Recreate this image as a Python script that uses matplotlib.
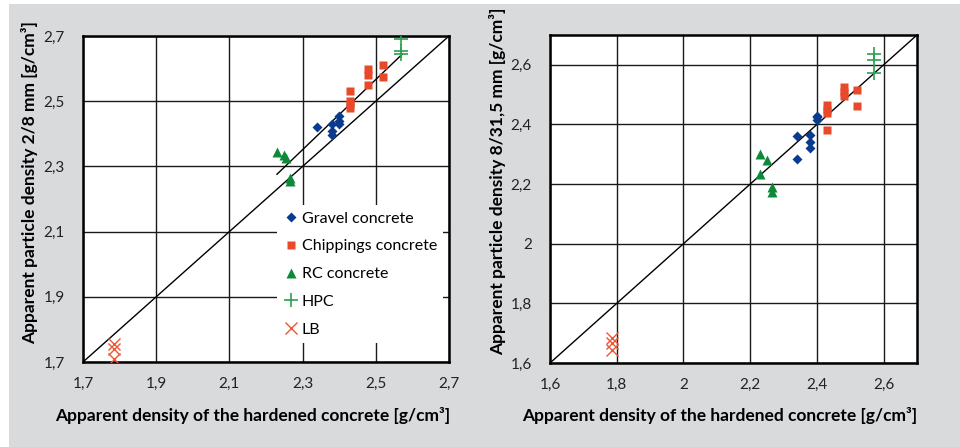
import matplotlib.pyplot as plt
from matplotlib.patches import Rectangle

plt.rcParams['font.family'] = ['Lato', 'DejaVu Sans']

# left chart: particle density 2/8 mm
gravel_x1 = [2.34, 2.38, 2.38, 2.38, 2.40, 2.40, 2.40]
gravel_y1 = [2.42, 2.43, 2.41, 2.395, 2.455, 2.44, 2.43]
chip_x1 = [2.43, 2.43, 2.43, 2.43, 2.48, 2.48, 2.48, 2.52, 2.52]
chip_y1 = [2.53, 2.50, 2.49, 2.48, 2.60, 2.58, 2.55, 2.61, 2.575]
rc_x1 = [2.23, 2.25, 2.255, 2.265, 2.265]
rc_y1 = [2.345, 2.335, 2.325, 2.265, 2.255]
hpc_x1 = [2.57, 2.57, 2.57]
hpc_y1 = [2.69, 2.655, 2.645]
lb_x1 = [1.785, 1.785, 1.785]
lb_y1 = [1.755, 1.74, 1.71]
trend_x1 = [2.23, 2.572]
trend_y1 = [2.276, 2.644]

# right chart: particle density 8/31,5 mm
gravel_x2 = [2.34, 2.34, 2.38, 2.38, 2.38, 2.40, 2.40, 2.40]
gravel_y2 = [2.36, 2.285, 2.365, 2.34, 2.32, 2.43, 2.425, 2.415]
chip_x2 = [2.43, 2.43, 2.43, 2.43, 2.48, 2.48, 2.48, 2.52, 2.52]
chip_y2 = [2.465, 2.45, 2.44, 2.38, 2.525, 2.51, 2.495, 2.517, 2.463]
rc_x2 = [2.23, 2.25, 2.23, 2.265, 2.265]
rc_y2 = [2.30, 2.28, 2.235, 2.19, 2.175]
hpc_x2 = [2.57, 2.57, 2.57]
hpc_y2 = [2.635, 2.617, 2.572]
lb_x2 = [1.785, 1.785, 1.785]
lb_y2 = [1.683, 1.667, 1.643]

ticks1 = [1.7, 1.9, 2.1, 2.3, 2.5, 2.7]
ticklabels1 = ['1,7', '1,9', '2,1', '2,3', '2,5', '2,7']
ticks2 = [1.6, 1.8, 2.0, 2.2, 2.4, 2.6]
ticklabels2 = ['1,6', '1,8', '2', '2,2', '2,4', '2,6']

c_gravel = '#0a3b8f'
c_chip = '#e8492a'
c_rc = '#0c8a3a'
c_hpc = '#2f9f52'
c_lb = '#ee5634'

fig = plt.figure(figsize=(9.6, 4.47), dpi=100, facecolor='white')
fig.patches.append(Rectangle((9 / 960, 0), 1, (447 - 4) / 447, transform=fig.transFigure,
                             facecolor='#d9dadc', edgecolor='none', zorder=-10))

ax1 = fig.add_axes([83 / 960, 85 / 447, 366 / 960, 326 / 447])
ax2 = fig.add_axes([550 / 960, 84 / 447, 367 / 960, 328 / 447])


def draw(ax, gx, gy, cx, cy, rx, ry, hx, hy, lx, ly):
    ax.plot(gx, gy, 'D', color=c_gravel, ms=5.5, mec='none', label='Gravel concrete', zorder=3)
    ax.plot(cx, cy, 's', color=c_chip, ms=5.5, mec='none', label='Chippings concrete', zorder=3)
    ax.plot(rx, ry, '^', color=c_rc, ms=7, mec='none', label='RC concrete', zorder=3)
    ax.plot(hx, hy, '+', color=c_hpc, ms=10, mew=1.2, label='HPC', zorder=3)
    ax.plot(lx, ly, 'x', color=c_lb, ms=8, mew=1.0, label='LB', zorder=3)


draw(ax1, gravel_x1, gravel_y1, chip_x1, chip_y1, rc_x1, rc_y1, hpc_x1, hpc_y1, lb_x1, lb_y1)
ax1.plot([1.7, 2.7], [1.7, 2.7], color='black', lw=1.0, zorder=2)
ax1.plot(trend_x1, trend_y1, color='black', lw=1.0, zorder=2)
ax1.set_xlim(1.7, 2.7)
ax1.set_ylim(1.7, 2.7)
ax1.set_xticks(ticks1)
ax1.set_xticklabels(ticklabels1)
ax1.set_yticks(ticks1)
ax1.set_yticklabels(ticklabels1)
leg = ax1.legend(loc='lower left', bbox_to_anchor=(0.53, 0.058), borderaxespad=0,
                 fontsize=11.5, frameon=True, fancybox=False, framealpha=1,
                 facecolor='white', edgecolor='none', handlelength=0.9,
                 handletextpad=0.25, labelspacing=0.85, borderpad=0.4)
leg.set_zorder(5)

draw(ax2, gravel_x2, gravel_y2, chip_x2, chip_y2, rc_x2, rc_y2, hpc_x2, hpc_y2, lb_x2, lb_y2)
ax2.plot([1.6, 2.7], [1.6, 2.7], color='black', lw=1.0, zorder=2)
ax2.set_xlim(1.6, 2.7)
ax2.set_ylim(1.6, 2.7)
ax2.set_xticks(ticks2)
ax2.set_xticklabels(ticklabels2)
ax2.set_yticks(ticks2)
ax2.set_yticklabels(ticklabels2)

for ax in (ax1, ax2):
    ax.set_facecolor('white')
    ax.grid(True, color='#1a1a1a', lw=1.0, zorder=1)
    ax.set_axisbelow(True)
    ax.tick_params(length=0, labelsize=11, colors='#222222')
    ax.tick_params(axis='y', pad=13)
    ax.tick_params(axis='x', pad=11)
    for s in ax.spines.values():
        s.set_linewidth(1.8)
        s.set_color('black')

ax1.set_xlabel('Apparent density of the hardened concrete [g/cm³]', fontsize=12.5,
               fontweight='bold', va='center', ha='center')
ax1.xaxis.set_label_coords(0.4645, -0.163)
ax1.set_ylabel('Apparent particle density 2/8 mm [g/cm³]', fontsize=12.5,
               fontweight='bold', va='center', ha='center')
ax1.yaxis.set_label_coords(-0.145, 0.549)

ax2.set_xlabel('Apparent density of the hardened concrete [g/cm³]', fontsize=12.5,
               fontweight='bold', va='center', ha='center')
ax2.xaxis.set_label_coords(0.463, -0.16)
ax2.set_ylabel('Apparent particle density 8/31,5 mm [g/cm³]', fontsize=12.5,
               fontweight='bold', va='center', ha='center')
ax2.yaxis.set_label_coords(-0.142, 0.555)

fig.savefig('out.png', dpi=100, facecolor=fig.get_facecolor())
